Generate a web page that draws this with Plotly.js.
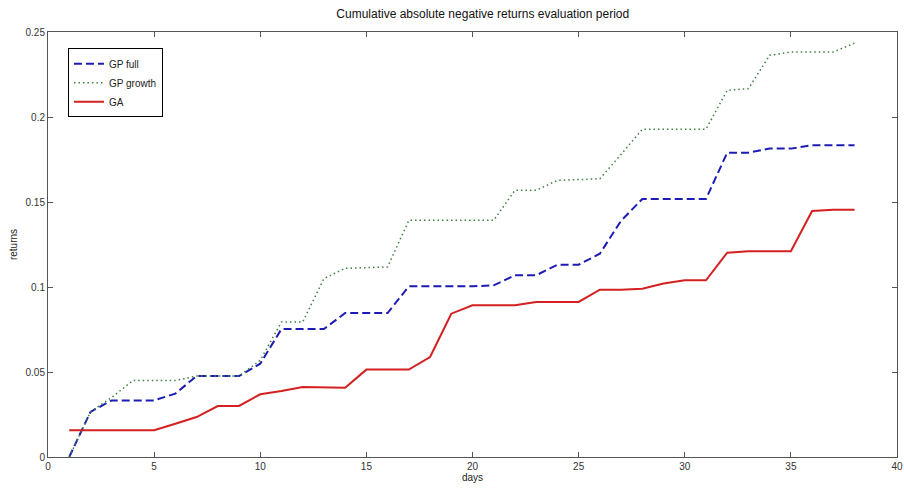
<!DOCTYPE html>
<html>
<head>
<meta charset="utf-8">
<script src="https://cdn.plot.ly/plotly-3.0.1.min.js"></script>
<style>html,body{margin:0;padding:0;background:#fff;}#chart{width:904px;height:492px;}</style>
</head>
<body>
<div id="chart"></div>
<script>
var days = [1,2,3,4,5,6,7,8,9,10,11,12,13,14,15,16,17,18,19,20,21,22,23,24,25,26,27,28,29,30,31,32,33,34,35,36,37,38];
var gpFull = [0,0.0265,0.0333,0.0333,0.0333,0.0373,0.0476,0.0476,0.0476,0.0549,0.0753,0.0753,0.0753,0.0847,0.0847,0.0847,0.1004,0.1004,0.1004,0.1004,0.1010,0.1069,0.1069,0.1131,0.1131,0.1196,0.1390,0.1518,0.1518,0.1518,0.1518,0.1790,0.1790,0.1814,0.1814,0.1834,0.1834,0.1834];
var gpGrowth = [0,0.0265,0.0350,0.0450,0.0450,0.0450,0.0476,0.0476,0.0476,0.0569,0.0794,0.0794,0.1050,0.1110,0.1115,0.1118,0.1392,0.1392,0.1392,0.1392,0.1392,0.1569,0.1569,0.1627,0.1630,0.1637,0.1780,0.1928,0.1928,0.1928,0.1928,0.2157,0.2167,0.2363,0.2382,0.2382,0.2382,0.2435];
var ga = [0.0157,0.0157,0.0157,0.0157,0.0157,0.0196,0.0235,0.0300,0.0300,0.0369,0.0388,0.0412,0.0412,0.0408,0.0514,0.0514,0.0514,0.0588,0.0843,0.0892,0.0892,0.0892,0.0912,0.0912,0.0912,0.0984,0.0984,0.0990,0.1020,0.1039,0.1039,0.1202,0.1210,0.1210,0.1210,0.1447,0.1455,0.1455];
var seriesNames = ['GP full','GP growth','GA'];
var xTicks = [0,5,10,15,20,25,30,35,40];
var yTicks = [0,0.05,0.1,0.15,0.2,0.25];
var yTickText = ['0','0.05','0.1','0.15','0.2','0.25'];

var font = 'Liberation Sans, Arial, sans-serif';
var traces = [
  {x: days, y: gpFull, name: seriesNames[0], mode: 'lines', line: {color: '#1c1cb4', width: 2, dash: '8px,4px'}},
  {x: days, y: gpGrowth, name: seriesNames[1], mode: 'lines', line: {color: '#3f7f3f', width: 1.5, dash: '1.5px,3px'}},
  {x: days, y: ga, name: seriesNames[2], mode: 'lines', line: {color: '#d42020', width: 2}}
];
var axisCommon = {
  showgrid: false, zeroline: false, showline: true, mirror: 'ticks',
  linecolor: '#555', linewidth: 1, ticks: 'inside', ticklen: 5, tickcolor: '#555',
  tickfont: {family: font, size: 10, color: '#333'}
};
var layout = {
  width: 904, height: 492,
  margin: {l: 48, r: 7, t: 32, b: 35, pad: 0},
  paper_bgcolor: '#fff', plot_bgcolor: '#fff',
  font: {family: font, size: 10, color: '#222'},
  title: {text: 'Cumulative absolute negative returns evaluation period', font: {family: font, size: 12, color: '#111'}, x: 0.534, xanchor: 'center', y: 0.972, yanchor: 'middle'},
  xaxis: Object.assign({}, axisCommon, {range: [0, 40], tickvals: xTicks, ticktext: xTicks.map(String), title: {text: 'days', font: {family: font, size: 10, color: '#222'}, standoff: 2}}),
  yaxis: Object.assign({}, axisCommon, {range: [0, 0.25], tickvals: yTicks, ticktext: yTickText, title: {text: 'returns', font: {family: font, size: 10, color: '#222'}, standoff: 6}}),
  showlegend: true,
  legend: {x: 0.0235, y: 0.962, xanchor: 'left', yanchor: 'top', bgcolor: '#fff', bordercolor: '#000', borderwidth: 1, font: {family: font, size: 10, color: '#222'}, tracegroupgap: 0, itemwidth: 30}
};
Plotly.newPlot('chart', traces, layout, {displayModeBar: false, staticPlot: true});
</script>
</body>
</html>
